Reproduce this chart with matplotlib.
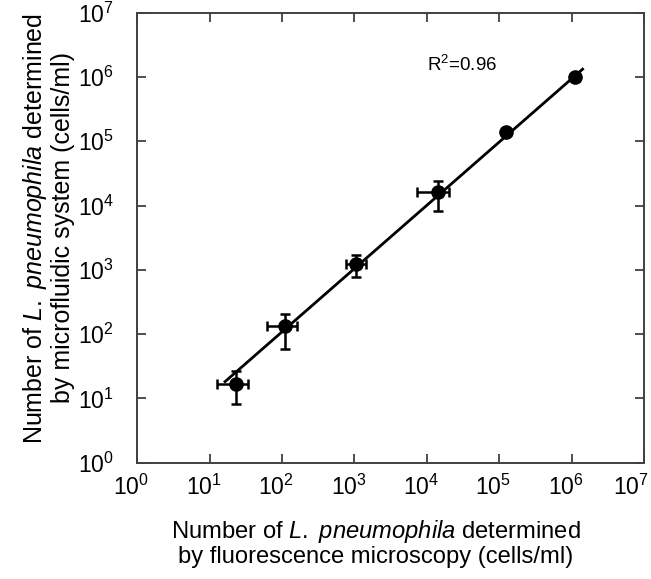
import numpy as np
import matplotlib
matplotlib.use("Agg")
import matplotlib.pyplot as plt
import matplotlib.transforms as mtransforms
from matplotlib.ticker import NullLocator, FixedLocator, NullFormatter

plt.rcParams['font.family'] = ['Liberation Sans', 'DejaVu Sans']
plt.rcParams['mathtext.fontset'] = 'custom'
plt.rcParams['mathtext.rm'] = 'Liberation Sans'
plt.rcParams['mathtext.it'] = 'Liberation Sans:italic'
plt.rcParams['mathtext.bf'] = 'Liberation Sans:bold'

# Data (cells/ml)
x_fm = [23.1, 110, 1049, 14400, 122500, 1.11e6]
y_mf = [16.6, 134, 1218, 16000, 140600, 1.0e6]
x_lo = [12.5, 62.5, 763, 7370, 122500, 1.11e6]
x_hi = [33.5, 159, 1442, 20400, 122500, 1.11e6]
y_lo = [8.1, 58.7, 764, 8300, 140600, 1.0e6]
y_hi = [26.7, 203, 1700, 24300, 140600, 1.0e6]

# Fit line (log10 y = slope * log10 x + intercept)
fit_slope = 0.984
fit_intercept = 0.068
fit_x_range = [16.3, 1.42e6]
r2_text = "R$^2$=0.96"

# Tick values and labels
tick_vals = [1e0, 1e1, 1e2, 1e3, 1e4, 1e5, 1e6, 1e7]
tick_labels = ["$\\mathdefault{10^{0}}$", "$\\mathdefault{10^{1}}$", "$\\mathdefault{10^{2}}$",
               "$\\mathdefault{10^{3}}$", "$\\mathdefault{10^{4}}$", "$\\mathdefault{10^{5}}$",
               "$\\mathdefault{10^{6}}$", "$\\mathdefault{10^{7}}$"]

x_fm = np.array(x_fm); y_mf = np.array(y_mf)
xerr = [x_fm - np.array(x_lo), np.array(x_hi) - x_fm]
yerr = [y_mf - np.array(y_lo), np.array(y_hi) - y_mf]

fig = plt.figure(figsize=(6.51, 5.79), dpi=100)
ax = fig.add_axes([0.2109, 0.2009, 0.9892 - 0.2109, 0.978 - 0.2009])

fx = np.array(fit_x_range)
fy = 10 ** (fit_slope * np.log10(fx) + fit_intercept)
ax.plot(fx, fy, color='black', lw=2.0, zorder=2)

ax.errorbar(x_fm, y_mf, xerr=xerr, yerr=yerr, fmt='o', color='black',
            ms=9.5, elinewidth=1.8, capsize=3.4, capthick=1.8, zorder=3)

ax.set_xscale('log'); ax.set_yscale('log')
ax.set_xlim(1, 1e7); ax.set_ylim(1, 1e7)
ax.xaxis.set_major_locator(FixedLocator(tick_vals))
ax.xaxis.set_major_formatter(NullFormatter())
ax.xaxis.set_minor_locator(NullLocator())
ax.set_yticks(tick_vals)
ax.set_yticklabels(tick_labels)
ax.yaxis.set_minor_locator(NullLocator())

ax.tick_params(which='major', direction='in', length=6.5, width=1.3,
               colors='#404040', labelcolor='black', labelsize=16.5,
               top=True, right=True)
ax.tick_params(axis='y', pad=17)
for s in ax.spines.values():
    s.set_color('#404040'); s.set_linewidth(1.4)

# x tick labels placed manually (slightly left of each tick, as in the original)
trans = mtransforms.blended_transform_factory(ax.transData, ax.transAxes)
for i, (v, lab) in enumerate(zip(tick_vals, tick_labels)):
    dx = -6 if i < len(tick_vals) - 1 else -13
    off = mtransforms.ScaledTranslation(dx / 100, -12 / 100, fig.dpi_scale_trans)
    ax.text(v, 0, lab, transform=trans + off, ha='center', va='top',
            fontsize=16.5, clip_on=False)

ax.text(1e4, 1.53e6, r2_text, fontsize=13.5, va='center', ha='left')

ax.set_xlabel("Number of $\\mathit{L.}$ $\\mathit{pneumophila}$ determined\nby fluorescence microscopy (cells/ml)",
              fontsize=17.1, linespacing=1.1)
ax.set_ylabel("Number of $\\mathit{L.}$ $\\mathit{pneumophila}$ determined\nby microfluidic system (cells/ml)",
              fontsize=18, linespacing=1.1)
ax.xaxis.set_label_coords(0.471, -0.122)
ax.yaxis.set_label_coords(-0.123, 0.5216)

fig.savefig("out.png", dpi=100)
